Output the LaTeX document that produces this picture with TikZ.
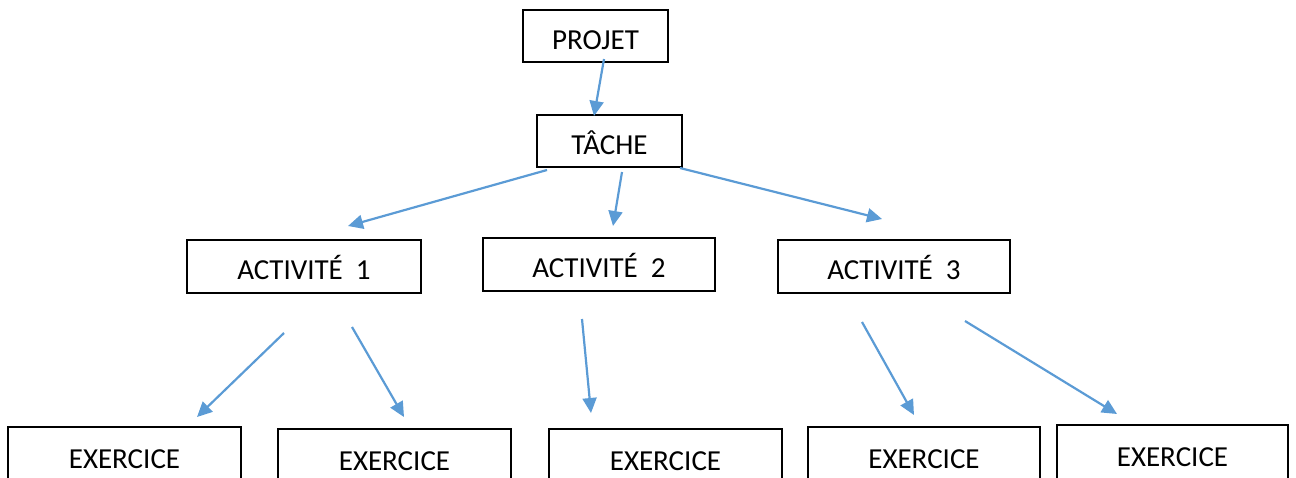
\documentclass[tikz,border=0pt]{standalone}
\usepackage{fontspec}
\setmainfont{Carlito}
\usetikzlibrary{arrows.meta}
\definecolor{arrowblue}{RGB}{91,155,213}
\begin{document}
\begin{tikzpicture}[x=1pt,y=-1pt,
  box/.style={draw=black, line width=1.8pt, fill=white, inner sep=0pt,
    text height=26.5pt, text depth=0pt,
    font=\fontsize{29}{33}\selectfont},
  conn/.style={draw=arrowblue, line width=2.2pt,
    -{Triangle[length=15pt,width=14pt]}}]
\useasboundingbox (0,0) rectangle (1296,477);
\clip (0,0) rectangle (1296,477);
% boxes
\node[box, minimum width=145pt, minimum height=52pt] (projet) at (595.5,36) {PROJET};
\node[box, minimum width=145pt, minimum height=52pt] (tache) at (609.5,141) {TÂCHE};
\node[box, minimum width=234pt, minimum height=53pt] (act1) at (304,266.5) {ACTIVITÉ\ \ 1};
\node[box, minimum width=232pt, minimum height=53pt] (act2) at (599,264.5) {ACTIVITÉ\ \ 2};
\node[box, minimum width=232pt, minimum height=53pt] (act3) at (894,266.5) {ACTIVITÉ\ \ 3};
\node[box, minimum width=233pt, minimum height=56pt] (ex1) at (124.5,455) {EXERCICE};
\node[box, minimum width=233pt, minimum height=56pt] (ex2) at (394.5,457) {EXERCICE};
\node[box, minimum width=233pt, minimum height=56pt] (ex3) at (665.5,457) {EXERCICE};
\node[box, minimum width=232pt, minimum height=56pt] (ex4) at (924,455) {EXERCICE};
\node[box, minimum width=231pt, minimum height=56pt] (ex5) at (1172.5,453) {EXERCICE};
% connector end points (arrows float between the boxes)
\coordinate (p-s) at (604,59);   \coordinate (t-e) at (594,116);
\coordinate (t-s1) at (547,170); \coordinate (a1-e) at (348,226);
\coordinate (t-s2) at (622,172); \coordinate (a2-e) at (613,226);
\coordinate (t-s3) at (680,168); \coordinate (a3-e) at (882,219);
\coordinate (a1-s1) at (284,333); \coordinate (e1-e) at (197,417);
\coordinate (a1-s2) at (352,327); \coordinate (e2-e) at (404,417);
\coordinate (a2-s) at (582,319);  \coordinate (e3-e) at (591,413);
\coordinate (a3-s1) at (862,322); \coordinate (e4-e) at (914,415);
\coordinate (a3-s2) at (965,321); \coordinate (e5-e) at (1117,414);
% connectors
\draw[conn] (p-s) -- (t-e);
\draw[conn] (t-s1) -- (a1-e);
\draw[conn] (t-s2) -- (a2-e);
\draw[conn] (t-s3) -- (a3-e);
\draw[conn] (a1-s1) -- (e1-e);
\draw[conn] (a1-s2) -- (e2-e);
\draw[conn] (a2-s) -- (e3-e);
\draw[conn] (a3-s1) -- (e4-e);
\draw[conn] (a3-s2) -- (e5-e);
\end{tikzpicture}
\end{document}
